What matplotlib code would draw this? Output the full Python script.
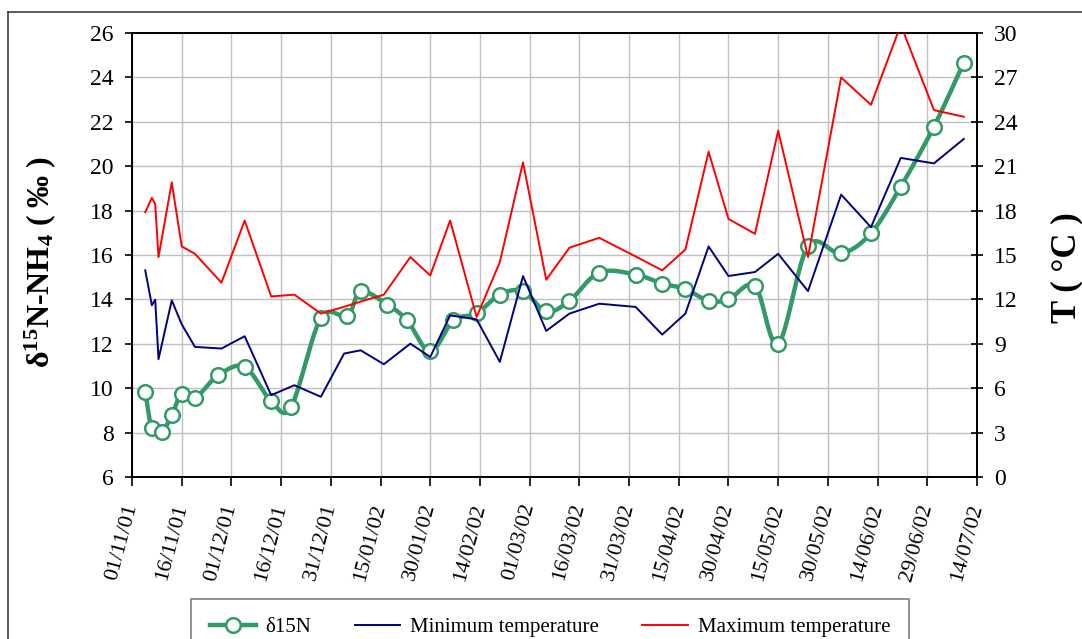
import numpy as np
import matplotlib
matplotlib.use("Agg")
import matplotlib.pyplot as plt
import matplotlib.dates as mdates
from matplotlib.lines import Line2D

plt.rcParams['font.family'] = ['Liberation Serif', 'DejaVu Serif']
plt.rcParams['mathtext.fontset'] = 'custom'
plt.rcParams['mathtext.rm'] = 'Liberation Serif'
plt.rcParams['mathtext.it'] = 'Liberation Serif:italic'
plt.rcParams['mathtext.bf'] = 'Liberation Serif:bold'
plt.rcParams['mathtext.default'] = 'bf'

# delta 15N of ammonium (permil), left axis
d15n_dates = ['2001-11-05', '2001-11-07', '2001-11-10', '2001-11-13', '2001-11-16',
              '2001-11-20', '2001-11-27', '2001-12-05', '2001-12-13', '2001-12-19',
              '2001-12-28', '2002-01-05', '2002-01-09', '2002-01-17', '2002-01-23',
              '2002-01-30', '2002-02-06', '2002-02-13', '2002-02-20', '2002-02-27',
              '2002-03-06', '2002-03-13', '2002-03-22', '2002-04-02', '2002-04-10',
              '2002-04-17', '2002-04-24', '2002-04-30', '2002-05-08', '2002-05-15',
              '2002-05-24', '2002-06-03', '2002-06-12', '2002-06-21', '2002-07-01',
              '2002-07-10']
d15n = [9.82, 8.20, 8.02, 8.79, 9.73, 9.55, 10.58, 10.96, 9.42, 9.16,
        13.16, 13.25, 14.36, 13.77, 13.06, 11.66, 13.06, 13.37, 14.22, 14.37,
        13.46, 13.93, 15.21, 15.12, 14.71, 14.47, 13.93, 14.00, 14.60, 12.00,
        16.40, 16.07, 16.98, 19.08, 21.78, 24.66]

# air temperatures (deg C), right axis
temp_dates = ['2001-11-05', '2001-11-07', '2001-11-08', '2001-11-09', '2001-11-13',
              '2001-11-16', '2001-11-20', '2001-11-28', '2001-12-05', '2001-12-13',
              '2001-12-20', '2001-12-28', '2002-01-04', '2002-01-09', '2002-01-16',
              '2002-01-24', '2002-01-30', '2002-02-05', '2002-02-13', '2002-02-20',
              '2002-02-27', '2002-03-06', '2002-03-13', '2002-03-22', '2002-04-02',
              '2002-04-10', '2002-04-17', '2002-04-24', '2002-04-30', '2002-05-08',
              '2002-05-15', '2002-05-24', '2002-06-03', '2002-06-12', '2002-06-21',
              '2002-07-01', '2002-07-10']
t_min = [13.96, 11.60, 11.98, 7.96, 11.94, 10.32, 8.79, 8.68, 9.51, 5.53,
         6.20, 5.42, 8.34, 8.56, 7.62, 9.01, 8.11, 10.92, 10.65, 7.78,
         13.58, 9.87, 11.04, 11.71, 11.49, 9.62, 11.04, 15.58, 13.58, 13.85,
         15.08, 12.56, 19.08, 16.88, 21.56, 21.19, 22.84]
t_max = [17.89, 18.86, 18.45, 14.86, 19.91, 15.58, 15.08, 13.13, 17.33, 12.20,
         12.32, 11.04, 11.50, 11.85, 12.32, 14.86, 13.62, 17.33, 10.81, 14.52,
         21.26, 13.33, 15.49, 16.16, 14.90, 13.96, 15.37, 21.98, 17.44, 16.43,
         23.40, 14.86, 26.99, 25.15, 30.55, 24.79, 24.34]

x_start, x_end = '2001-11-01', '2002-07-14'


def smooth_curve(x, y, n=20):
    """Uniform Catmull-Rom curve through the given points."""
    x = np.asarray(x, float)
    y = np.asarray(y, float)
    p = np.column_stack([x, y])
    m = np.zeros_like(p)
    m[1:-1] = (p[2:] - p[:-2]) / 2.0
    m[0] = p[1] - p[0]
    m[-1] = p[-1] - p[-2]
    t = np.linspace(0, 1, n, endpoint=False)[:, None]
    h00 = 2 * t**3 - 3 * t**2 + 1
    h10 = t**3 - 2 * t**2 + t
    h01 = -2 * t**3 + 3 * t**2
    h11 = t**3 - t**2
    segs = []
    for i in range(len(p) - 1):
        segs.append(h00 * p[i] + h10 * m[i] + h01 * p[i + 1] + h11 * m[i + 1])
    segs.append(p[-1:])
    c = np.vstack(segs)
    return c[:, 0], c[:, 1]


W, H = 1082, 639
fig = plt.figure(figsize=(W / 100, H / 100), dpi=100)
ax = fig.add_axes([132 / W, 1 - 477 / H, (977 - 132) / W, (477 - 33) / H])
ax2 = ax.twinx()

green = '#339966'
xd = mdates.date2num(np.array(d15n_dates, dtype='datetime64[D]'))
xt = mdates.date2num(np.array(temp_dates, dtype='datetime64[D]'))

sx, sy = smooth_curve(xd, d15n)
ax.plot(sx, sy, color=green, lw=3.2, solid_capstyle='round', zorder=3)
ax.plot(xd, d15n, ls='none', marker='o', ms=10.5, mfc='white', mec=green,
        mew=1.8, zorder=4)

ax2.plot(xt, t_min, color='#000080', lw=1.4, zorder=3)
ax2.plot(xt, t_max, color='#FF0000', lw=1.4, zorder=3)

x0 = mdates.date2num(np.datetime64(x_start))
x1 = mdates.date2num(np.datetime64(x_end))
ax.set_xlim(x0, x1)
ax.set_xticks(np.arange(x0, x1 + 1, 15))
ax.xaxis.set_major_formatter(mdates.DateFormatter('%d/%m/%y'))

ax.set_ylim(6, 26)
ax.set_yticks(np.arange(6, 27, 2))
ax2.set_ylim(0, 30)
ax2.set_yticks(np.arange(0, 31, 3))

ax.grid(True, color='#C0C0C0', lw=1.0)
ax.set_axisbelow(True)

for s in ['top', 'right', 'left', 'bottom']:
    ax.spines[s].set_linewidth(1.3)
    ax2.spines[s].set_linewidth(1.3)

ax.tick_params(axis='y', direction='out', length=5, width=1.2, pad=8, labelsize=17)
ax.tick_params(axis='x', direction='out', length=6.5, width=1.2, pad=13, labelsize=16)
ax2.tick_params(axis='y', direction='inout', length=9, width=1.2, pad=8, labelsize=17)

for lab in ax.get_xticklabels():
    lab.set_rotation(75)
    lab.set_ha('right')
    lab.set_va('center')
    lab.set_rotation_mode('anchor')

fig.text(40 / W, 1 - 262 / H, 'δ$^{15}$N-NH$_4$ ( ‰ )', rotation=90,
         fontsize=23, fontweight='bold', ha='center', va='center')
fig.text(1067 / W, 1 - 268 / H, 'T ( °C )', rotation=90,
         fontsize=25, fontweight='bold', ha='center', va='center')

handles = [
    Line2D([], [], color=green, lw=3.2, marker='o', ms=10.5, mfc='white',
           mec=green, mew=1.8),
    Line2D([], [], color='#000080', lw=1.4),
    Line2D([], [], color='#FF0000', lw=1.4),
]
labels = ['δ15N', 'Minimum temperature', 'Maximum temperature']
leg = fig.legend(handles, labels, ncol=3, loc='upper left',
                 bbox_to_anchor=(191 / W, 1 - 599 / H), frameon=True,
                 fancybox=False, edgecolor='#808080', framealpha=1,
                 borderpad=0.9, borderaxespad=0, handlelength=2.2,
                 handletextpad=0.45, columnspacing=2.1, numpoints=1,
                 prop={'family': 'Liberation Serif', 'size': 15})
leg.get_frame().set_linewidth(1.2)

# outer frame of the chart area
fig.add_artist(Line2D([8 / W, 1.0], [1 - 12 / H, 1 - 12 / H], color='#404040', lw=1.2))
fig.add_artist(Line2D([8 / W, 8 / W], [0.0, 1 - 12 / H], color='#404040', lw=1.2))

fig.savefig('out.png', dpi=100)
